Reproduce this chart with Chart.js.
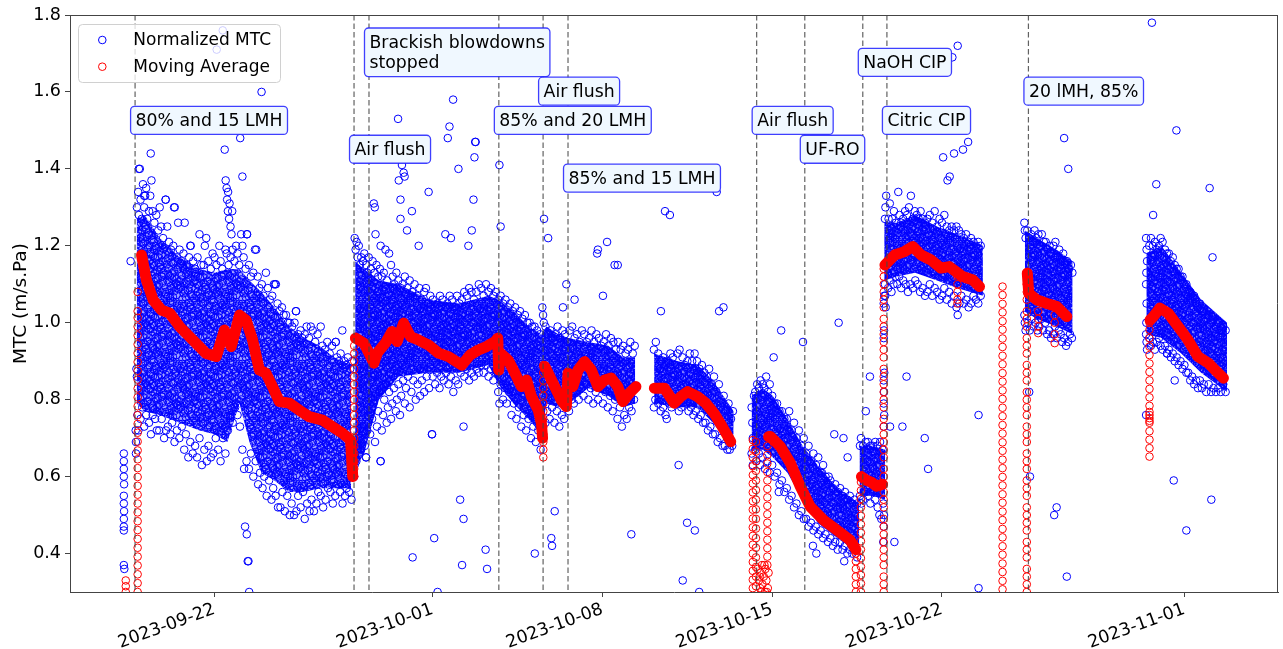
<!DOCTYPE html>
<html>
<head>
<meta charset="utf-8">
<title>Normalized MTC</title>
<script src="https://cdn.jsdelivr.net/npm/chart.js@4.4.1/dist/chart.umd.min.js"></script>
<style>
  html, body { margin: 0; padding: 0; background: #ffffff; }
  canvas { display: block; }
</style>
</head>
<body>
<canvas id="chart" width="1283" height="649"></canvas>
<script>
// Time axis: days counted from 2023-09-22 00:00.
const tickDays = [0, 9, 16, 23, 30, 40];
const tickLabels = ['2023-09-22', '2023-10-01', '2023-10-08', '2023-10-15', '2023-10-22', '2023-11-01'];
const yTicks = [0.4, 0.6, 0.8, 1.0, 1.2, 1.4, 1.6, 1.8];
const xRange = [-5.96, 43.86];
const yRange = [0.3, 1.8];

// Operating events (dashed lines) and their notes.
const eventDays = [-3.276, 5.754, 6.371, 11.726, 13.551, 14.579, 22.359, 24.344, 26.736, 27.731, 33.567];
const noteText = ['80% and 15 LMH', 'Air flush', 'Brackish blowdowns\nstopped', '85% and 20 LMH', 'Air flush',
                  '85% and 15 LMH', 'Air flush', 'UF-RO', 'NaOH CIP', 'Citric CIP', '20 lMH, 85%'];
const noteDay = [-3.276, 5.754, 6.371, 11.726, 13.551, 14.579, 22.359, 24.344, 26.736, 27.731, 33.567];
const noteY = [1.526, 1.451, 1.703, 1.526, 1.602, 1.376, 1.526, 1.451, 1.677, 1.526, 1.602];

// Dense body of the normalized MTC cloud per run: time, upper and lower bound.
const coreA_t = [-3.21, -2.88, -2.26, -1.44, -0.62, 0, 0.53, 1.03, 1.44, 1.93, 2.47, 3.08, 3.7, 4.32, 4.93, 5.63];
const coreA_hi = [1.27, 1.28, 1.22, 1.17, 1.14, 1.13, 1.14, 1.14, 1.11, 1.08, 1.04, 0.99, 0.96, 0.94, 0.91, 0.89];
const coreA_lo = [0.79, 0.77, 0.76, 0.74, 0.72, 0.71, 0.69, 0.79, 0.69, 0.61, 0.59, 0.56, 0.56, 0.57, 0.57, 0.57];
const coreB_t = [5.8, 6.17, 6.78, 7.6, 8.84, 10.07, 11.3, 11.71, 12.33, 12.95, 13.48, 13.69, 14.18, 14.59, 15.41, 16.24, 16.85, 17.35];
const coreB_hi = [1.16, 1.14, 1.11, 1.1, 1.06, 1.05, 1.07, 1.06, 1.03, 0.99, 0.97, 0.99, 0.97, 0.96, 0.95, 0.94, 0.91, 0.91];
const coreB_lo = [0.62, 0.66, 0.8, 0.86, 0.87, 0.87, 0.89, 0.84, 0.79, 0.75, 0.71, 0.79, 0.78, 0.79, 0.83, 0.81, 0.78, 0.79];
const coreC_t = [18.13, 19.11, 19.93, 20.55, 21.41];
const coreC_hi = [0.92, 0.9, 0.89, 0.85, 0.77];
const coreC_lo = [0.79, 0.78, 0.78, 0.74, 0.67];
const coreD_t = [22.15, 22.61, 23.02, 23.63, 24.25, 24.87, 25.69, 26.59];
const coreD_hi = [0.81, 0.83, 0.81, 0.75, 0.68, 0.63, 0.57, 0.53];
const coreD_lo = [0.67, 0.67, 0.65, 0.61, 0.54, 0.48, 0.44, 0.4];
const coreE_t = [26.6, 27.13, 27.66];
const coreE_hi = [0.68, 0.68, 0.67];
const coreE_lo = [0.55, 0.55, 0.54];
const coreF_t = [27.62, 28.15, 28.89, 29.8, 30.62, 31.69];
const coreF_hi = [1.26, 1.26, 1.28, 1.25, 1.23, 1.2];
const coreF_lo = [1.11, 1.12, 1.13, 1.11, 1.09, 1.07];
const coreG_t = [33.42, 33.91, 34.73, 35.39];
const coreG_hi = [1.24, 1.22, 1.19, 1.16];
const coreG_lo = [1.03, 1.01, 0.99, 0.97];
const coreH_t = [38.43, 39.05, 39.87, 40.69, 41.76];
const coreH_hi = [1.18, 1.2, 1.13, 1.06, 1.0];
const coreH_lo = [0.97, 0.96, 0.92, 0.87, 0.82];

// Individual normalized MTC readings [day, value].
const blueA = [
  [-3.74,0.66],[-3.74,0.64],[-3.74,0.62],[-3.74,0.6],[-3.73,0.58],[-3.74,0.55],[-3.74,0.53],[-3.73,0.51],[-3.74,0.49],[-3.74,0.47],[-3.74,0.46],[-3.74,0.37],[-3.72,0.36],[-3.46,1.16],
  [-3.2,1.3],[-3.15,1.34],[-3.12,1.28],[-3.08,1.4],[-3.05,1.32],[-3.0,1.27],[-2.95,1.36],[-2.9,1.3],[-2.86,1.33],[-2.82,1.35],[-2.78,1.27],[-2.7,1.29],[-2.65,1.33],[-2.6,1.37],[-2.55,1.29],[-2.48,1.26],[-2.4,1.28],[-2.32,1.24],[-2.26,1.3],[-2.2,1.25],[-2.12,1.22],[-2.02,1.32],[-1.95,1.25],[-1.88,1.21],[-1.8,1.19],[-1.7,1.2],[-1.64,1.3],[-1.56,1.17],[-1.5,1.26],[-1.44,1.19],[-1.36,1.16],[-1.28,1.18],[-1.23,1.26],[-1.15,1.15],[-1.05,1.17],[-0.98,1.2],[-0.88,1.16],[-0.8,1.14],[-0.7,1.17],[-0.62,1.23],[-0.55,1.15],[-0.45,1.15],[-0.4,1.2],[-0.34,1.22],[-0.25,1.16],[-0.15,1.14],[-0.08,1.18],[0.0,1.17],[0.08,1.15],[0.2,1.2],[0.25,1.16],[0.32,1.14],[0.45,1.19],[0.5,1.18],[0.58,1.15],[0.66,1.17],[0.75,1.19],[0.82,1.16],[0.89,1.2],[0.95,1.18],[1.02,1.15],[1.1,1.23],[1.15,1.2],[1.2,1.17],[1.28,1.14],[1.34,1.23],[1.42,1.15],[1.5,1.12],[1.6,1.13],[1.67,1.19],[1.72,1.19],[1.78,1.12],[1.85,1.09],[1.95,1.1],[2.02,1.07],[2.12,1.13],[2.2,1.09],[2.28,1.06],[2.38,1.07],[2.45,1.1],[2.53,1.1],[2.6,1.05],[2.68,1.03],[2.78,1.04],[2.85,1.02],[2.95,1.02],[3.02,1.0],[3.1,1.0],[3.2,0.99],[3.3,1.0],[3.36,1.03],[3.45,0.97],[3.55,0.98],[3.62,0.96],[3.72,0.97],[3.8,0.99],[3.9,0.96],[3.97,0.99],[4.05,0.98],[4.15,0.95],[4.25,0.97],[4.38,0.99],[4.45,0.94],[4.55,0.93],[4.65,0.95],[4.75,0.92],[4.85,0.94],[5.0,0.95],[5.05,0.91],[5.13,0.9],[5.2,0.92],[5.27,0.98],[5.35,0.9],[5.42,0.89],[5.5,0.91],[5.6,0.88],[5.68,0.9],
  [-3.24,0.69],[-3.24,0.66],[-3.25,0.72],[-3.22,0.88],[-3.2,0.86],[-3.18,0.76],[-3.14,0.72],[-3.05,0.75],[-2.98,0.78],[-2.9,0.73],[-2.82,0.76],[-2.7,0.74],[-2.62,0.71],[-2.55,0.76],[-2.45,0.75],[-2.38,0.72],[-2.28,0.72],[-2.18,0.75],[-2.08,0.7],[-2.0,0.72],[-1.92,0.73],[-1.82,0.71],[-1.75,0.74],[-1.65,0.69],[-1.55,0.72],[-1.45,0.7],[-1.35,0.73],[-1.25,0.67],[-1.18,0.71],[-1.08,0.65],[-1.0,0.69],[-0.9,0.66],[-0.8,0.68],[-0.72,0.65],[-0.62,0.7],[-0.52,0.63],[-0.42,0.67],[-0.32,0.64],[-0.25,0.68],[-0.15,0.65],[-0.05,0.66],[0.05,0.7],[0.15,0.67],[0.25,0.64],[0.35,0.7],[0.45,0.66],[0.55,0.72],[0.65,0.76],[0.75,0.74],[0.85,0.78],[0.95,0.76],[1.05,0.73],[1.15,0.67],[1.22,0.62],[1.32,0.64],[1.42,0.62],[1.5,0.66],[1.6,0.6],[1.7,0.64],[1.8,0.58],[1.88,0.61],[1.98,0.57],[2.05,0.6],[2.15,0.55],[2.25,0.59],[2.35,0.54],[2.42,0.57],[2.52,0.55],[2.62,0.52],[2.72,0.52],[2.8,0.56],[2.9,0.51],[3.0,0.55],[3.1,0.5],[3.18,0.53],[3.28,0.5],[3.38,0.51],[3.45,0.55],[3.55,0.52],[3.65,0.56],[3.72,0.49],[3.82,0.53],[3.92,0.51],[4.0,0.54],[4.1,0.51],[4.2,0.53],[4.28,0.56],[4.38,0.55],[4.48,0.52],[4.58,0.54],[4.68,0.57],[4.78,0.56],[4.88,0.53],[4.98,0.55],[5.08,0.58],[5.18,0.56],[5.28,0.53],[5.38,0.55],[5.45,0.57],[5.55,0.56],[5.65,0.54],
  [-2.63,1.44],[0.34,1.76],[0.09,1.71],[1.94,1.6],[1.06,1.48],[0.42,1.45],[1.15,1.38],[0.46,1.37],[0.5,1.35],[0.56,1.34],[0.52,1.32],[0.62,1.31],[0.55,1.29],[0.73,1.29],[0.6,1.27],[0.66,1.25],[0.7,1.23],[1.26,0.47],[1.33,0.45],[1.4,0.38],[1.43,0.3],[1.37,0.38],[-2.01,1.32],[-1.67,1.3],[-3.12,1.4],[-2.9,1.33],[-1.0,1.2],[2.5,1.1],[3.36,1.03],[5.0,0.95],[1.34,1.23]
];
const blueB = [
  [5.78,1.22],[5.82,1.19],[5.86,1.21],[5.9,1.17],[5.95,1.2],[6.0,1.15],[6.05,1.17],[6.12,1.16],[6.18,1.18],[6.25,1.15],[6.3,1.13],[6.36,1.17],[6.45,1.14],[6.52,1.16],[6.6,1.13],[6.68,1.15],[6.75,1.12],[6.82,1.14],[6.9,1.12],[6.98,1.13],[7.05,1.19],[7.12,1.11],[7.2,1.18],[7.28,1.15],[7.35,1.12],[7.42,1.1],[7.5,1.13],[7.58,1.11],[7.68,1.09],[7.75,1.1],[7.85,1.12],[7.95,1.09],[8.05,1.11],[8.15,1.08],[8.25,1.1],[8.35,1.07],[8.45,1.09],[8.55,1.06],[8.65,1.08],[8.72,1.09],[8.8,1.05],[8.9,1.07],[9.0,1.06],[9.1,1.04],[9.2,1.05],[9.3,1.07],[9.4,1.06],[9.5,1.04],[9.6,1.05],[9.7,1.07],[9.8,1.06],[9.9,1.04],[10.0,1.07],[10.1,1.05],[10.2,1.06],[10.3,1.08],[10.4,1.07],[10.5,1.09],[10.6,1.08],[10.7,1.06],[10.8,1.08],[10.9,1.1],[11.0,1.09],[11.1,1.07],[11.2,1.1],[11.3,1.08],[11.4,1.09],[11.5,1.07],[11.6,1.08],[11.7,1.06],[11.8,1.07],[11.9,1.05],[12.0,1.06],[12.1,1.04],[12.2,1.05],[12.3,1.03],[12.4,1.04],[12.5,1.02],[12.6,1.03],[12.7,1.01],[12.8,1.02],[12.9,1.0],[13.0,1.0],[13.1,0.99],[13.2,0.99],[13.3,0.98],[13.42,0.97],[13.52,1.04],[13.55,1.02],[13.58,1.0],[13.65,0.99],[13.75,0.97],[13.85,0.98],[13.95,0.96],[14.05,0.97],[14.15,0.99],[14.25,0.96],[14.35,0.98],[14.45,0.97],[14.55,0.95],[14.65,0.98],[14.75,0.99],[14.85,0.96],[14.95,0.97],[15.05,0.95],[15.15,0.98],[15.25,0.97],[15.35,0.95],[15.45,0.96],[15.55,0.98],[15.65,0.95],[15.75,0.97],[15.85,0.96],[15.95,0.94],[16.05,0.95],[16.15,0.97],[16.25,0.94],[16.35,0.96],[16.45,0.95],[16.55,0.93],[16.65,0.95],[16.75,0.93],[16.85,0.94],[16.95,0.92],[17.05,0.93],[17.15,0.95],[17.25,0.92],[17.33,0.94],
  [5.76,0.6],[5.78,0.63],[5.8,0.66],[5.85,0.64],[5.9,0.68],[5.95,0.71],[6.0,0.7],[6.05,0.67],[6.1,0.73],[6.2,0.68],[6.25,0.65],[6.3,0.72],[6.35,0.76],[6.42,0.71],[6.5,0.75],[6.55,0.79],[6.62,0.69],[6.7,0.73],[6.75,0.77],[6.8,0.82],[6.85,0.64],[6.9,0.72],[6.95,0.76],[7.0,0.8],[7.05,0.84],[7.1,0.74],[7.15,0.78],[7.2,0.82],[7.28,0.75],[7.33,0.79],[7.4,0.83],[7.48,0.77],[7.52,0.8],[7.58,0.84],[7.65,0.76],[7.7,0.81],[7.78,0.85],[7.85,0.79],[7.9,0.83],[7.98,0.86],[8.05,0.78],[8.12,0.82],[8.2,0.85],[8.3,0.8],[8.38,0.84],[8.48,0.81],[8.55,0.85],[8.65,0.82],[8.75,0.86],[8.85,0.83],[8.97,0.71],[9.0,0.86],[9.1,0.84],[9.18,0.87],[9.28,0.83],[9.35,0.86],[9.45,0.85],[9.55,0.87],[9.65,0.84],[9.75,0.86],[9.85,0.82],[9.95,0.85],[10.05,0.84],[10.15,0.87],[10.27,0.73],[10.3,0.86],[10.4,0.88],[10.5,0.85],[10.6,0.87],[10.7,0.86],[10.8,0.88],[10.9,0.87],[11.0,0.89],[11.1,0.87],[11.2,0.89],[11.3,0.86],[11.4,0.88],[11.5,0.85],[11.6,0.87],[11.7,0.82],[11.75,0.79],[11.8,0.84],[11.9,0.8],[11.98,0.83],[12.05,0.79],[12.15,0.82],[12.25,0.76],[12.35,0.79],[12.45,0.75],[12.55,0.78],[12.65,0.73],[12.75,0.76],[12.85,0.72],[12.95,0.75],[13.05,0.7],[13.15,0.73],[13.25,0.69],[13.35,0.72],[13.45,0.67],[13.5,0.7],[13.65,0.74],[13.72,0.77],[13.82,0.75],[13.92,0.78],[14.02,0.74],[14.12,0.77],[14.22,0.73],[14.32,0.76],[14.42,0.75],[14.52,0.78],[14.62,0.77],[14.72,0.8],[14.82,0.79],[14.92,0.82],[15.02,0.8],[15.12,0.83],[15.22,0.81],[15.32,0.84],[15.42,0.8],[15.52,0.83],[15.62,0.79],[15.72,0.82],[15.82,0.8],[15.92,0.83],[16.02,0.79],[16.12,0.82],[16.22,0.78],[16.32,0.81],[16.42,0.77],[16.52,0.8],[16.62,0.75],[16.72,0.78],[16.8,0.73],[16.9,0.76],[17.0,0.75],[17.1,0.78],[17.2,0.77],[17.3,0.8],
  [8.83,1.34],[10.68,1.32],[10.06,1.4],[10.72,1.43],[10.75,1.47],[11.75,1.41],[11.8,1.25],[13.59,1.27],[13.76,1.22],[10.61,1.24],[9.52,1.23],[9.75,1.22],[10.47,1.2],[15.78,1.18],[16.19,1.21],[16.5,1.15],[16.02,1.07],[14.51,1.1],[14.85,1.06],[6.57,1.31],[6.61,1.3],[7.6,1.37],[7.8,1.39],[7.73,1.41],[7.84,1.38],[7.67,1.32],[7.67,1.27],[8.14,1.29],[7.94,1.24],[8.42,1.2],[6.64,1.23],[6.85,1.2],[8.97,0.71],[6.85,0.64],[6.25,0.65],[10.13,0.54],[10.27,0.49],[9.06,0.44],[8.17,0.39],[10.21,0.37],[11.18,0.41],[11.24,0.36],[9.2,0.3],[13.21,0.4],[14.03,0.51],[13.89,0.44],[13.92,0.42],[14.37,1.04],[9.84,1.58],[9.69,1.51],[9.62,1.48],[10.77,1.47],[7.57,1.53]
];
const blueC = [
  [18.12,0.93],[18.2,0.95],[18.3,0.92],[18.4,0.9],[18.5,0.91],[18.6,0.89],[18.7,0.9],[18.8,0.92],[18.9,0.91],[19.0,0.89],[19.1,0.92],[19.18,0.93],[19.3,0.91],[19.4,0.89],[19.5,0.9],[19.6,0.92],[19.7,0.9],[19.8,0.92],[19.9,0.9],[20.0,0.88],[20.1,0.89],[20.2,0.87],[20.3,0.86],[20.4,0.88],[20.5,0.84],[20.6,0.86],[20.7,0.82],[20.8,0.84],[20.9,0.79],[21.0,0.81],[21.1,0.77],[21.2,0.79],[21.3,0.75],[21.38,0.77],
  [18.12,0.78],[18.18,0.8],[18.3,0.79],[18.4,0.77],[18.5,0.78],[18.6,0.76],[18.65,0.75],[18.75,0.79],[18.85,0.78],[18.95,0.8],[19.05,0.79],[19.15,0.77],[19.25,0.78],[19.35,0.8],[19.45,0.79],[19.55,0.77],[19.65,0.78],[19.75,0.76],[19.85,0.77],[19.95,0.75],[20.05,0.76],[20.15,0.74],[20.25,0.74],[20.35,0.72],[20.45,0.73],[20.55,0.71],[20.65,0.71],[20.75,0.69],[20.85,0.7],[20.95,0.68],[21.05,0.68],[21.15,0.67],[21.25,0.67],[21.35,0.68],
  [18.41,1.03],[18.58,1.29],[18.78,1.28],[20.71,1.34],[20.81,1.03],[20.99,1.04],[19.14,0.63],[19.49,0.48],[19.81,0.46],[19.31,0.33],[19.99,0.3],[17.19,0.45],[16.63,1.15],[15.81,1.19]
];
const blueD = [
  [22.15,0.78],[22.18,0.74],[22.2,0.7],[22.25,0.81],[22.3,0.82],[22.38,0.84],[22.45,0.83],[22.52,0.85],[22.6,0.84],[22.68,0.83],[22.75,0.86],[22.82,0.82],[22.9,0.84],[23.0,0.81],[23.1,0.79],[23.2,0.79],[23.3,0.77],[23.4,0.77],[23.5,0.75],[23.6,0.75],[23.7,0.77],[23.8,0.72],[23.9,0.74],[24.0,0.7],[24.1,0.72],[24.2,0.68],[24.3,0.7],[24.4,0.66],[24.5,0.68],[24.6,0.64],[24.7,0.66],[24.8,0.63],[24.9,0.65],[25.0,0.61],[25.1,0.63],[25.2,0.6],[25.3,0.58],[25.4,0.59],[25.5,0.57],[25.6,0.58],[25.7,0.56],[25.8,0.57],[25.9,0.55],[26.0,0.56],[26.1,0.54],[26.2,0.55],[26.3,0.53],[26.4,0.54],[26.5,0.53],
  [22.15,0.66],[22.2,0.63],[22.3,0.67],[22.35,0.64],[22.45,0.66],[22.5,0.63],[22.6,0.65],[22.7,0.62],[22.8,0.64],[22.9,0.61],[23.0,0.63],[23.1,0.6],[23.2,0.61],[23.3,0.58],[23.4,0.59],[23.5,0.56],[23.6,0.57],[23.7,0.54],[23.8,0.55],[23.9,0.52],[24.0,0.53],[24.1,0.5],[24.2,0.51],[24.3,0.49],[24.4,0.49],[24.5,0.47],[24.6,0.48],[24.7,0.46],[24.8,0.47],[24.9,0.45],[25.0,0.46],[25.1,0.44],[25.2,0.45],[25.3,0.43],[25.4,0.44],[25.5,0.42],[25.6,0.43],[25.7,0.41],[25.8,0.43],[25.9,0.41],[26.0,0.42],[26.1,0.4],[26.2,0.41],[26.3,0.4],[26.4,0.41],[26.5,0.39],
  [23.37,0.98],[23.06,0.91],[24.27,0.95],[25.74,1.0],[25.56,0.71],[25.94,0.7],[26.11,0.65],[23.27,0.56],[24.68,0.42],[24.82,0.4],[25.97,0.38],[25.05,0.61],[25.33,0.6]
];
const blueE = [
  [26.62,0.68],[26.66,0.7],[26.75,0.68],[26.85,0.69],[26.95,0.69],[27.05,0.68],[27.15,0.68],[27.25,0.69],[27.35,0.68],[27.45,0.69],[27.55,0.67],
  [26.62,0.55],[26.68,0.53],[26.75,0.54],[26.85,0.56],[26.95,0.55],[27.05,0.53],[27.15,0.56],[27.25,0.54],[27.35,0.52],[27.42,0.5],[27.5,0.49],[27.58,0.53],
  [27.58,0.43],[27.6,0.47],[27.61,0.5],[27.6,0.73],[27.62,0.76],[27.6,0.79],[27.61,0.82],[27.6,0.85],[27.62,0.87],[27.6,0.96],[27.61,0.98],[27.6,1.05],[27.62,1.07],
  [26.86,0.77],[27.03,0.86],[27.86,0.73],[28.37,0.73],[28.54,0.86],[29.29,0.7],[29.43,0.62],[28.04,0.43],[31.51,0.76],[31.51,0.31]
];
const blueF = [
  [27.65,1.27],[27.67,1.3],[27.7,1.33],[27.8,1.27],[27.85,1.31],[27.95,1.27],[28.02,1.29],[28.1,1.26],[28.2,1.34],[28.25,1.28],[28.32,1.26],[28.4,1.27],[28.48,1.29],[28.56,1.28],[28.64,1.3],[28.72,1.33],[28.8,1.27],[28.88,1.29],[28.96,1.28],[29.04,1.27],[29.12,1.29],[29.2,1.27],[29.3,1.26],[29.4,1.27],[29.5,1.28],[29.6,1.26],[29.7,1.29],[29.8,1.25],[29.9,1.27],[30.0,1.26],[30.1,1.28],[30.2,1.25],[30.3,1.24],[30.4,1.25],[30.5,1.24],[30.6,1.25],[30.7,1.24],[30.8,1.23],[30.9,1.22],[31.0,1.23],[31.1,1.21],[31.2,1.22],[31.3,1.21],[31.4,1.2],[31.5,1.21],[31.6,1.2],
  [27.65,1.1],[27.66,1.07],[27.68,1.04],[27.78,1.09],[27.85,1.11],[27.92,1.08],[28.0,1.1],[28.08,1.12],[28.16,1.1],[28.24,1.12],[28.32,1.09],[28.4,1.11],[28.5,1.1],[28.6,1.08],[28.7,1.1],[28.8,1.09],[28.9,1.11],[29.0,1.1],[29.1,1.08],[29.2,1.09],[29.3,1.07],[29.4,1.08],[29.5,1.1],[29.6,1.07],[29.7,1.09],[29.8,1.08],[29.9,1.06],[30.0,1.07],[30.1,1.09],[30.2,1.06],[30.3,1.08],[30.4,1.05],[30.5,1.07],[30.6,1.04],[30.65,1.02],[30.72,1.05],[30.8,1.07],[30.9,1.05],[31.0,1.06],[31.1,1.04],[31.2,1.05],[31.3,1.07],[31.4,1.06],[31.5,1.05],[31.6,1.07],
  [30.05,1.43],[30.5,1.44],[30.87,1.45],[31.08,1.47],[30.23,1.37],[30.32,1.38],[30.65,1.72],[30.43,1.69]
];
const blueG = [
  [33.4,1.26],[33.42,1.24],[33.45,1.22],[33.52,1.24],[33.6,1.22],[33.68,1.23],[33.75,1.21],[33.82,1.24],[33.9,1.22],[33.98,1.23],[34.05,1.2],[34.12,1.23],[34.2,1.21],[34.28,1.21],[34.36,1.19],[34.44,1.2],[34.52,1.18],[34.6,1.2],[34.68,1.21],[34.76,1.17],[34.84,1.19],[34.92,1.16],[35.0,1.18],[35.08,1.15],[35.16,1.16],[35.24,1.14],[35.32,1.15],[35.38,1.13],
  [33.4,1.02],[33.42,1.0],[33.45,0.98],[33.55,1.0],[33.62,0.98],[33.7,1.01],[33.78,0.99],[33.86,1.0],[33.94,0.98],[34.02,0.99],[34.1,1.01],[34.18,0.98],[34.26,1.0],[34.34,0.97],[34.42,0.98],[34.5,0.96],[34.58,0.97],[34.66,0.99],[34.74,0.96],[34.82,0.98],[34.9,0.97],[34.96,0.95],[35.04,0.96],[35.12,0.94],[35.2,0.95],[35.28,0.97],[35.36,0.96],
  [35.04,1.48],[35.21,1.4],[33.6,0.82],[33.63,0.6],[34.73,0.52],[34.63,0.5],[35.15,0.34]
];
const blueH = [
  [38.42,1.22],[38.44,1.19],[38.46,1.16],[38.55,1.2],[38.62,1.22],[38.7,1.2],[38.78,1.21],[38.86,1.19],[38.95,1.2],[39.02,1.22],[39.1,1.21],[39.2,1.19],[39.28,1.18],[39.36,1.18],[39.44,1.16],[39.52,1.17],[39.6,1.15],[39.68,1.14],[39.76,1.14],[39.84,1.12],[39.92,1.12],[40.0,1.1],[40.08,1.1],[40.16,1.08],[40.24,1.08],[40.32,1.06],[40.4,1.07],[40.48,1.05],[40.56,1.04],[40.64,1.05],[40.72,1.03],[40.8,1.03],[40.9,1.02],[41.0,1.02],[41.1,1.0],[41.2,1.01],[41.3,0.99],[41.4,1.0],[41.5,0.98],[41.6,0.99],[41.7,0.98],
  [38.42,0.97],[38.44,0.95],[38.46,0.93],[38.55,0.96],[38.62,0.94],[38.7,0.95],[38.78,0.93],[38.86,0.95],[38.95,0.96],[39.02,0.94],[39.1,0.93],[39.2,0.94],[39.28,0.92],[39.36,0.93],[39.44,0.91],[39.52,0.92],[39.6,0.9],[39.68,0.91],[39.76,0.89],[39.84,0.9],[39.92,0.88],[40.0,0.89],[40.08,0.87],[40.16,0.87],[40.24,0.85],[40.32,0.86],[40.4,0.84],[40.48,0.85],[40.56,0.83],[40.64,0.85],[40.72,0.83],[40.8,0.84],[40.9,0.82],[41.0,0.84],[41.1,0.82],[41.2,0.83],[41.3,0.82],[41.4,0.83],[41.5,0.82],[41.6,0.84],[41.7,0.82],
  [38.43,1.13],[38.42,1.1],[38.44,1.05],[38.43,1.0],[38.42,0.76],
  [38.84,1.36],[38.71,1.28],[41.04,1.35],[41.16,1.17],[39.29,0.92],[39.6,0.85],[39.56,0.59],[41.11,0.54],[40.08,0.46],[38.66,1.78],[39.67,1.5]
];

// Moving average, continuous stretches [day, value].
const avgA = [[-3.01,1.176],[-2.81,1.111],[-2.53,1.059],[-2.19,1.033],[-1.85,1.025],[-1.44,0.99],[-0.89,0.955],[-0.34,0.92],[0.07,0.912],[0.41,0.981],[0.69,0.938],[1.03,1.02],[1.3,1.007],[1.57,0.955],[1.85,0.877],[2.12,0.869],[2.39,0.834],[2.67,0.795],[3.08,0.791],[3.49,0.773],[3.9,0.756],[4.45,0.747],[4.86,0.73],[5.27,0.713],[5.61,0.695],[5.7,0.6]];
const avgB1 = [[5.82,0.96],[6.16,0.947],[6.37,0.921],[6.57,0.895],[6.71,0.921],[7.05,0.947],[7.32,0.977],[7.53,0.951],[7.8,0.999],[8.08,0.964],[8.42,0.955],[8.83,0.942],[9.24,0.921],[9.65,0.912],[10.2,0.89],[10.54,0.916],[10.88,0.929],[11.22,0.938],[11.57,0.951],[11.68,0.96],[11.72,0.877],[11.8,0.92],[12.11,0.903],[12.39,0.869],[12.66,0.834],[12.87,0.851],[13.07,0.808],[13.35,0.773],[13.48,0.739],[13.53,0.7]];
const avgB2 = [[13.62,0.886],[13.76,0.869],[14.03,0.834],[14.3,0.799],[14.51,0.782],[14.58,0.869],[14.78,0.834],[14.99,0.877],[15.26,0.899],[15.54,0.877],[15.81,0.834],[16.09,0.851],[16.36,0.856],[16.63,0.834],[16.84,0.795],[17.11,0.817],[17.38,0.834]];
const avgC = [[18.14,0.83],[18.55,0.83],[18.96,0.791],[19.23,0.808],[19.51,0.821],[19.92,0.808],[20.26,0.791],[20.6,0.765],[20.94,0.73],[21.29,0.691]];
const avgD = [[22.85,0.704],[22.93,0.704],[23.34,0.678],[23.75,0.635],[24.16,0.574],[24.57,0.522],[25.12,0.487],[25.67,0.461],[26.21,0.435],[26.45,0.41]];
const avgE = [[26.68,0.6],[26.9,0.59],[27.1,0.585],[27.3,0.575],[27.55,0.58]];
const avgF = [[27.65,1.15],[28.05,1.176],[28.46,1.185],[28.8,1.198],[29.14,1.176],[29.55,1.163],[29.96,1.142],[30.3,1.146],[30.64,1.13],[30.85,1.12],[31.28,1.111],[31.55,1.094]];
const avgG = [[33.52,1.129],[33.58,1.077],[33.92,1.059],[34.33,1.05],[34.74,1.042],[35.15,1.016]];
const avgH = [[38.58,1.007],[38.72,1.016],[38.99,1.038],[39.33,1.025],[39.74,0.99],[40.15,0.955],[40.56,0.912],[40.99,0.895],[41.27,0.877],[41.61,0.856]];

// Moving average during restarts: stacked readings at a single time.
const avgColumnDays = [-3.66, -3.17, 5.76, 13.56, 22.2, 22.33, 22.8, 26.45, 26.66, 27.6, 30.64, 32.5, 33.5, 33.97, 34.65, 38.56];
const avgColumnValues = [
  [0.3, 0.315, 0.33],
  [0.3, 0.323, 0.346, 0.369, 0.392, 0.415, 0.438, 0.461, 0.484, 0.507, 0.53, 0.553, 0.576, 0.599, 0.622, 0.645, 0.668, 0.691, 0.714, 0.737, 0.76, 0.783, 0.806, 0.829, 0.852, 0.875, 0.898, 0.921, 0.944, 0.967, 0.99, 1.013, 1.03, 1.08],
  [0.6, 0.62, 0.64, 0.66, 0.68, 0.7, 0.72, 0.74, 0.76, 0.78, 0.8, 0.82, 0.84, 0.86, 0.88, 0.9, 0.92, 0.94, 0.96],
  [0.65, 0.67, 0.69, 0.71, 0.73, 0.75, 0.77, 0.79, 0.81, 0.83, 0.85, 0.87, 0.89],
  [0.695, 0.672, 0.65, 0.627, 0.604, 0.582, 0.559, 0.536, 0.514, 0.491, 0.468, 0.446, 0.423, 0.4, 0.378, 0.355, 0.332, 0.31],
  [0.69, 0.665, 0.64, 0.615, 0.59, 0.565, 0.54, 0.515, 0.49, 0.465, 0.44, 0.415, 0.39, 0.365, 0.34, 0.315],
  [0.37, 0.392, 0.414, 0.436, 0.458, 0.48, 0.502, 0.524, 0.546, 0.568, 0.59, 0.612, 0.634, 0.656, 0.68],
  [0.3, 0.32, 0.34, 0.36, 0.38, 0.4],
  [0.3, 0.322, 0.344, 0.366, 0.388, 0.41, 0.432, 0.454, 0.476, 0.498, 0.52, 0.542, 0.564, 0.586],
  [0.3, 0.32, 0.34, 0.37, 0.39, 0.41, 0.43, 0.45, 0.47, 0.49, 0.52, 0.54, 0.56, 0.58, 0.6, 0.62, 0.65, 0.67, 0.69, 0.71, 0.73, 0.75, 0.78, 0.8, 0.82, 0.84, 0.86, 0.88, 0.91, 0.93, 0.95, 0.97, 0.99, 1.01, 1.04, 1.06, 1.08, 1.1, 1.12, 1.14],
  [1.12, 1.1, 1.08, 1.06, 1.05],
  [1.094, 1.072, 1.049, 1.027, 1.004, 0.982, 0.959, 0.937, 0.914, 0.892, 0.869, 0.847, 0.824, 0.802, 0.779, 0.757, 0.734, 0.712, 0.689, 0.667, 0.644, 0.622, 0.599, 0.577, 0.554, 0.532, 0.509, 0.487, 0.464, 0.442, 0.419, 0.397, 0.374, 0.352, 0.329, 0.307],
  [1.1, 1.08, 1.06, 1.03, 1.01, 0.99, 0.96, 0.94, 0.92, 0.89, 0.87, 0.85, 0.82, 0.8, 0.78, 0.76, 0.73, 0.71, 0.69, 0.66, 0.64, 0.62, 0.59, 0.57, 0.55, 0.52, 0.5, 0.48, 0.46, 0.43, 0.41, 0.39, 0.36, 0.34, 0.32, 0.3],
  [1.03, 1.01, 0.99, 0.973],
  [1.02, 1.0, 0.97, 0.947],
  [0.652, 0.674, 0.696, 0.718, 0.74, 0.745, 0.752, 0.76, 0.768, 0.784, 0.806, 0.828, 0.85, 0.872, 0.894, 0.916, 0.938, 0.96, 0.982, 1.0]
];
const avgScatter = [[22.4,0.36],[22.45,0.33],[22.5,0.31],[22.52,0.35],[22.58,0.37],[22.6,0.32],[22.65,0.34],[22.7,0.3],[22.72,0.36],[22.76,0.33],[22.82,0.31],[22.85,0.35],[22.48,0.34],[22.55,0.3],[22.68,0.37],[22.78,0.3]];

// ---------------------------------------------------------------------------
const BLUE = '#0000ff';
const RED = '#ff0000';
const FONT = 'DejaVu Sans';
Chart.defaults.font.family = FONT;
Chart.defaults.color = '#000';

const toXY = rows => rows.map(([x, y]) => ({ x, y }));
const zip = (t, v) => t.map((x, i) => ({ x, y: v[i] }));

// Fill texture for the dense part of the cloud: a tile of overlapping hollow
// markers laid out on a low-discrepancy (Halton) grid so the tiling does not
// read as a regular lattice.
function halton(i, b) {
  let f = 1, r = 0;
  while (i > 0) { f /= b; r += f * (i % b); i = Math.floor(i / b); }
  return r;
}
function markerTexture(size, count, base) {
  const c = document.createElement('canvas');
  c.width = size; c.height = size;
  const g = c.getContext('2d');
  g.fillStyle = base;
  g.fillRect(0, 0, size, size);
  g.strokeStyle = BLUE;
  g.lineWidth = 1;
  for (let i = 1; i <= count; i++) {
    const sx = halton(i, 2) * size, sy = halton(i, 3) * size;
    for (const ox of [-size, 0, size]) {
      for (const oy of [-size, 0, size]) {
        g.beginPath();
        g.arc(sx + ox, sy + oy, 3.8, 0, Math.PI * 2);
        g.stroke();
      }
    }
  }
  return g.createPattern(c, 'repeat');
}
const ctx = document.getElementById('chart').getContext('2d');
const denseTex = markerTexture(60, 270, 'rgba(0,0,255,0.5)');
const looseTex = markerTexture(60, 210, 'rgba(0,0,255,0.36)');

const datasets = [];
const cores = [
  [coreA_t, coreA_hi, coreA_lo, looseTex],
  [coreB_t, coreB_hi, coreB_lo, denseTex],
  [coreC_t, coreC_hi, coreC_lo, denseTex],
  [coreD_t, coreD_hi, coreD_lo, denseTex],
  [coreE_t, coreE_hi, coreE_lo, denseTex],
  [coreF_t, coreF_hi, coreF_lo, denseTex],
  [coreG_t, coreG_hi, coreG_lo, denseTex],
  [coreH_t, coreH_hi, coreH_lo, denseTex]
];
for (const [t, hi, lo, tex] of cores) {
  datasets.push({ type: 'line', data: zip(t, hi), fill: '+1', backgroundColor: tex,
    borderColor: 'rgba(0,0,0,0)', borderWidth: 0, pointRadius: 0, tension: 0, order: 3 });
  datasets.push({ type: 'line', data: zip(t, lo), fill: false,
    borderColor: 'rgba(0,0,0,0)', borderWidth: 0, pointRadius: 0, tension: 0, order: 3 });
}

datasets.push({
  type: 'scatter', label: 'Normalized MTC',
  data: toXY([].concat(blueA, blueB, blueC, blueD, blueE, blueF, blueG, blueH)),
  pointRadius: 3.8, pointBorderWidth: 1, pointBorderColor: BLUE, pointBackgroundColor: 'rgba(0,0,0,0)',
  order: 2
});

for (const run of [avgA, avgB1, avgB2, avgC, avgD, avgE, avgF, avgG, avgH]) {
  datasets.push({ type: 'line', label: 'Moving Average', data: toXY(run), fill: false,
    borderColor: RED, borderWidth: 11, borderCapStyle: 'round', borderJoinStyle: 'round',
    pointRadius: 0, tension: 0, order: 1 });
}

const columnPoints = [];
avgColumnDays.forEach((d, i) => avgColumnValues[i].forEach(v => columnPoints.push({ x: d, y: v })));
datasets.push({
  type: 'scatter', label: 'Moving Average',
  data: columnPoints.concat(toXY(avgScatter)),
  pointRadius: 3.8, pointBorderWidth: 1, pointBorderColor: RED, pointBackgroundColor: 'rgba(0,0,0,0)',
  order: 0
});

function roundRect(g, x, y, w, h, r) {
  g.beginPath();
  g.moveTo(x + r, y);
  g.lineTo(x + w - r, y); g.arcTo(x + w, y, x + w, y + r, r);
  g.lineTo(x + w, y + h - r); g.arcTo(x + w, y + h, x + w - r, y + h, r);
  g.lineTo(x + r, y + h); g.arcTo(x, y + h, x, y + h - r, r);
  g.lineTo(x, y + r); g.arcTo(x, y, x + r, y, r);
  g.closePath();
}

// Frame, event markers, notes and legend on top of the data.
const overlay = {
  id: 'overlay',
  afterDatasetsDraw(chart) {
    const g = chart.ctx;
    const a = chart.chartArea;
    const xs = chart.scales.x, ys = chart.scales.y;
    g.save();
    g.strokeStyle = '#444';
    g.lineWidth = 1;
    g.beginPath();
    g.moveTo(a.left, a.top + 0.5); g.lineTo(a.right, a.top + 0.5);
    g.moveTo(a.right - 0.5, a.top); g.lineTo(a.right - 0.5, a.bottom);
    g.stroke();

    g.save();
    g.beginPath(); g.rect(a.left, a.top, a.right - a.left, a.bottom - a.top); g.clip();
    g.setLineDash([5.5, 3]);
    g.strokeStyle = 'rgba(70,70,70,0.85)';
    g.lineWidth = 1.2;
    for (const d of eventDays) {
      const px = xs.getPixelForValue(d);
      g.beginPath(); g.moveTo(px, a.top); g.lineTo(px, a.bottom); g.stroke();
    }
    g.restore();

    g.font = `17.3px "${FONT}"`;
    g.textBaseline = 'middle';
    g.textAlign = 'left';
    const lineH = 20.6;
    noteText.forEach((txt, i) => {
      const lines = txt.split('\n');
      const tx = xs.getPixelForValue(noteDay[i]) + 0.5;
      const cy = ys.getPixelForValue(noteY[i]);
      const w = Math.max(...lines.map(s => g.measureText(s).width));
      const h = 28 + (lines.length - 1) * lineH;
      roundRect(g, tx - 5, cy - h / 2, w + 10, h, 4);
      g.fillStyle = '#f0f8ff';
      g.fill();
      g.lineWidth = 1.3;
      g.strokeStyle = 'rgba(30,30,255,0.85)';
      g.stroke();
      g.fillStyle = '#000';
      lines.forEach((s, k) => g.fillText(s, tx, cy - (lines.length - 1) * lineH / 2 + k * lineH + 1));
    });

    // Legend
    roundRect(g, 78.5, 24.5, 202, 58, 4);
    g.fillStyle = 'rgba(255,255,255,0.8)';
    g.fill();
    g.strokeStyle = '#d0d0d0';
    g.lineWidth = 1;
    g.stroke();
    const items = [['Normalized MTC', BLUE, 40], ['Moving Average', RED, 66.7]];
    g.font = `17px "${FONT}"`;
    for (const [label, col, yy] of items) {
      g.beginPath(); g.arc(102.3, yy, 3.8, 0, Math.PI * 2);
      g.strokeStyle = col; g.lineWidth = 1; g.stroke();
      g.fillStyle = '#000';
      g.fillText(label, 133.3, yy + 1);
    }
    g.restore();
  }
};

new Chart(ctx, {
  type: 'scatter',
  data: { datasets },
  options: {
    responsive: false,
    animation: false,
    devicePixelRatio: 1,
    events: [],
    layout: { padding: { top: 15, right: 1, left: 0, bottom: 0 } },
    plugins: { legend: { display: false }, tooltip: { enabled: false } },
    scales: {
      x: {
        type: 'linear', min: xRange[0], max: xRange[1],
        afterBuildTicks: s => { s.ticks = tickDays.map(v => ({ value: v })); },
        afterFit: s => { s.height = 57; },
        ticks: {
          autoSkip: false, minRotation: 20, maxRotation: 20, padding: 2,
          color: '#000', font: { family: FONT, size: 17.5 },
          callback: (v, i) => tickLabels[i]
        },
        grid: { display: true, drawOnChartArea: false, drawTicks: true, tickLength: 5, color: '#444', lineWidth: 1 },
        border: { display: true, color: '#444', width: 1 }
      },
      y: {
        type: 'linear', min: yRange[0], max: yRange[1],
        afterBuildTicks: s => { s.ticks = yTicks.map(v => ({ value: v })); },
        afterFit: s => { s.width = 70; },
        ticks: {
          padding: 4, color: '#000', font: { family: FONT, size: 17.5 },
          callback: v => Number(v).toFixed(1)
        },
        title: { display: true, text: 'MTC (m/s.Pa)', color: '#000', font: { family: FONT, size: 18.5 }, padding: { top: 10, bottom: 0 } },
        grid: { display: true, drawOnChartArea: false, drawTicks: true, tickLength: 5, color: '#444', lineWidth: 1 },
        border: { display: true, color: '#444', width: 1 }
      }
    }
  },
  plugins: [overlay]
});
</script>
</body>
</html>
